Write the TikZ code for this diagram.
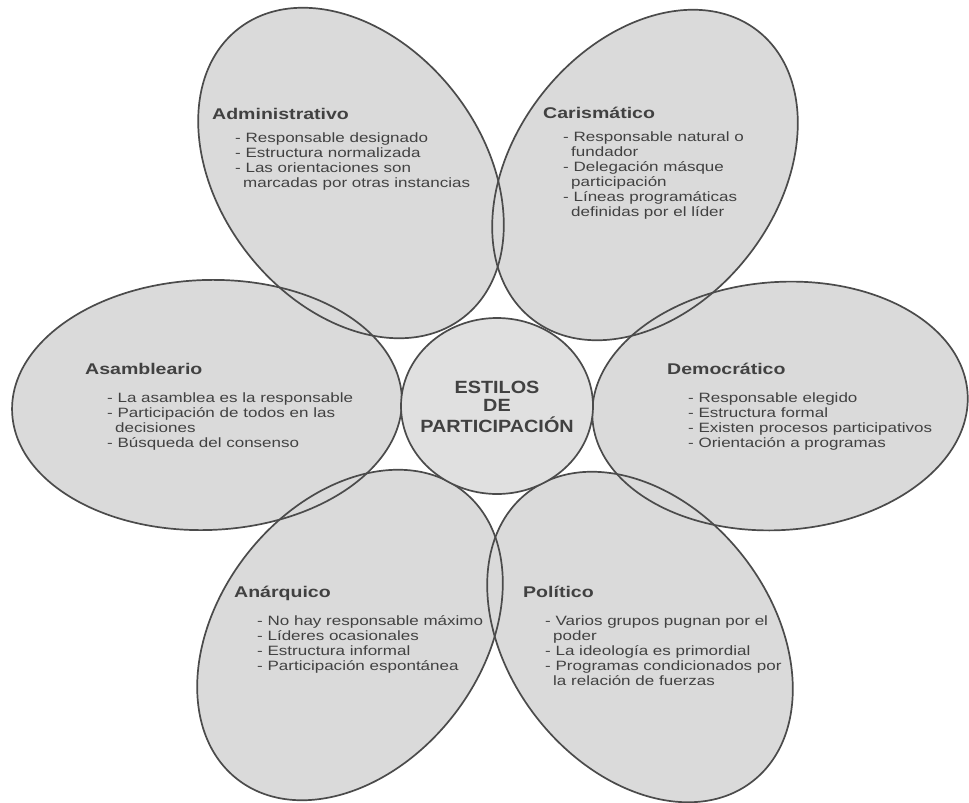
\documentclass[tikz,border=0pt]{standalone}
\usepackage{fontspec}
\setmainfont{Liberation Sans}
\newfontfamily\petalfont{Liberation Sans}[FakeStretch=1.26]
\newfontfamily\centerfont{Liberation Sans}[FakeStretch=1.12]
\definecolor{petalgray}{RGB}{218,218,218}
\definecolor{centergray}{RGB}{224,224,224}
\definecolor{edgegray}{RGB}{75,75,75}
\definecolor{inkgray}{RGB}{65,65,65}
\newcommand\itemlines[1]{\begin{tabular}[t]{@{}l@{}}#1\end{tabular}}
\newcommand\cont{\hspace*{8pt}}
\begin{document}
\begin{tikzpicture}[x=1pt,y=-1pt,
  petalfill/.style={fill=petalgray},
  petaledge/.style={draw=edgegray, line width=1.7pt},
  ptitle/.style={anchor=base west, inner sep=0pt, text=inkgray, font=\petalfont\fontsize{15.5}{18}\selectfont\bfseries},
  plines/.style={anchor=base west, inner sep=0pt, text=inkgray, font=\petalfont\fontsize{13.5}{15}\selectfont},
  ctext/.style={anchor=base, inner sep=0pt, text=inkgray, font=\centerfont\fontsize{17.7}{18.5}\selectfont\bfseries},
]
\fill[white] (0,0) rectangle (969,803);
\useasboundingbox (0,0) rectangle (969,803);

\coordinate (adm) at (351,173);
\coordinate (car) at (645,175);
\coordinate (asa) at (207,405);
\coordinate (dem) at (780,406);
\coordinate (ana) at (350,635);
\coordinate (pol) at (640,637);
\coordinate (mid) at (497,406);

\foreach \c/\a/\b/\r in {adm/183/131/128, car/183/131/52, asa/195/125/2, dem/188/124/4, ana/183/131/52, pol/183/131/128}
  \fill[petalfill, rotate around={\r:(\c)}] (\c) ellipse [x radius=\a, y radius=\b];
\foreach \c/\a/\b/\r in {adm/183/131/128, car/183/131/52, asa/195/125/2, dem/188/124/4, ana/183/131/52, pol/183/131/128}
  \draw[petaledge, rotate around={\r:(\c)}] (\c) ellipse [x radius=\a, y radius=\b];

\filldraw[fill=centergray, petaledge] (mid) ellipse [x radius=96, y radius=88];

\node[ctext] (ctr) at (497,393) {\begin{tabular}[t]{@{}c@{}}ESTILOS\\DE\\PARTICIPACIÓN\end{tabular}};

\node[ptitle] (admT) at (212,119) {Administrativo};
\node[plines] (admL) at (235,142) {\itemlines{- Responsable designado\\- Estructura normalizada\\- Las orientaciones son\\\cont marcadas por otras instancias}};

\node[ptitle] (carT) at (543,118) {Carismático};
\node[plines] (carL) at (563,141) {\itemlines{- Responsable natural o\\\cont fundador\\- Delegación másque\\\cont participación\\- Líneas programáticas\\\cont definidas por el líder}};

\node[ptitle] (asaT) at (85,374) {Asambleario};
\node[plines] (asaL) at (107,402) {\itemlines{- La asamblea es la responsable\\- Participación de todos en las\\\cont decisiones\\- Búsqueda del consenso}};

\node[ptitle] (demT) at (667,374) {Democrático};
\node[plines] (demL) at (688,402) {\itemlines{- Responsable elegido\\- Estructura formal\\- Existen procesos participativos\\- Orientación a programas}};

\node[ptitle] (anaT) at (234,597) {Anárquico};
\node[plines] (anaL) at (257,625) {\itemlines{- No hay responsable máximo\\- Líderes ocasionales\\- Estructura informal\\- Participación espontánea}};

\node[ptitle] (polT) at (523,597) {Político};
\node[plines] (polL) at (545,625) {\itemlines{- Varios grupos pugnan por el\\\cont poder\\- La ideología es primordial\\- Programas condicionados por\\\cont la relación de fuerzas}};
\end{tikzpicture}
\end{document}
